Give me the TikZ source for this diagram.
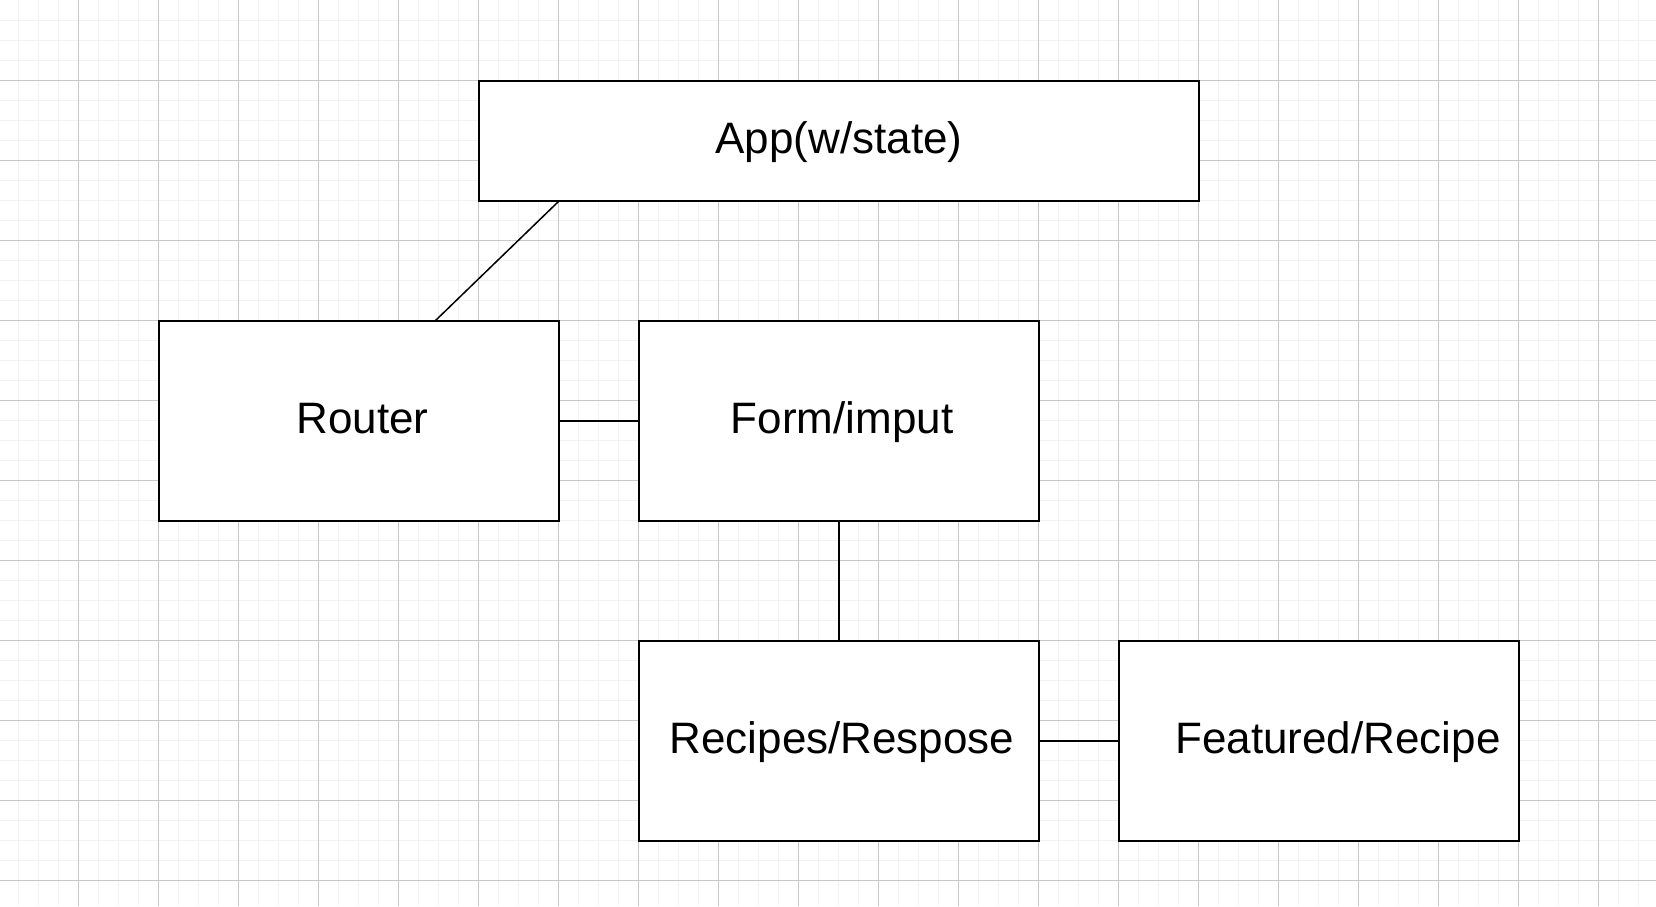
\documentclass[tikz,border=0pt]{standalone}
\usepackage{fontspec}
\setmainfont{Liberation Sans}
\usetikzlibrary{calc}
\definecolor{gridminor}{HTML}{F2F2F2}
\definecolor{gridmajor}{HTML}{C8C8C8}
\begin{document}
\begin{tikzpicture}[x=1pt,y=-1pt,
  box/.style={draw=black, line width=2pt, fill=white, minimum width=400pt, minimum height=200pt,
    inner sep=0pt, outer sep=0pt, text height=34pt, text depth=10pt, font=\fontsize{44}{52}\selectfont},
  link/.style={draw=black, line width=1.5pt},
  minorline/.style={draw=gridminor, line width=1.5pt},
  majorline/.style={draw=gridmajor, line width=1pt}]
\useasboundingbox (0,0) rectangle (1656,906);
\fill[white] (0,0) rectangle (1656,906);
% grid
\foreach \x in {18.3,38.3,...,1650} \draw[minorline] (\x,0) -- (\x,906);
\foreach \y in {20.3,40.3,...,900} \draw[minorline] (0,\y) -- (1656,\y);
\foreach \x in {78.3,158.3,...,1650} \draw[majorline] (\x,0) -- (\x,906);
\foreach \y in {80.3,160.3,...,900} \draw[majorline] (0,\y) -- (1656,\y);
% boxes
\node[box, minimum width=720pt, minimum height=120pt] (app) at (839,141) {App(w/state)};
\node[box] (router) at (359,421) {\hspace*{7pt}Router};
\node[box] (form) at (839,421) {\hspace*{6pt}Form/imput};
\node[box] (recipes) at (839,741) {\hspace*{6pt}Recipes/Respose};
\node[box] (featured) at (1319,741) {\hspace*{38pt}Featured/Recipe};
% connectors
\draw[link] ($(app.south west)+(80,0)$) -- ($(router.north)+(76,0)$);
\draw[link] (router.east) -- (form.west);
\draw[link] (form.south) -- (recipes.north);
\draw[link] (recipes.east) -- (featured.west);
\end{tikzpicture}
\end{document}
